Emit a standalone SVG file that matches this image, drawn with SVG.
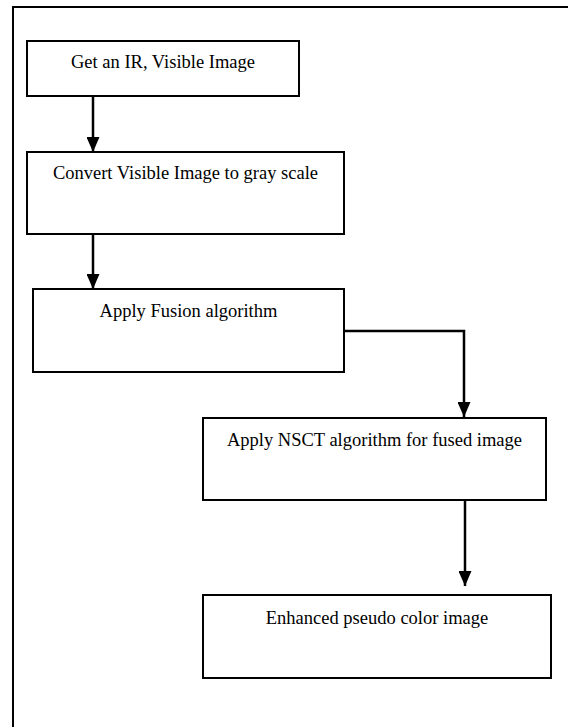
<svg xmlns="http://www.w3.org/2000/svg" width="568" height="727" viewBox="0 0 568 727">
  <style>
    .box { fill: #ffffff; stroke: #000000; stroke-width: 2; }
    .label { font-family: "Liberation Serif", "Times New Roman", serif; font-size: 18.5px; fill: #000000; text-anchor: middle; }
    .conn { fill: none; stroke: #000000; stroke-width: 2.5; }
    .frame { fill: none; stroke: #000000; stroke-width: 2; }
  </style>
  <defs>
    <marker id="arrow" viewBox="0 0 15 13" refX="15" refY="6.5" markerWidth="15" markerHeight="13" markerUnits="userSpaceOnUse" orient="auto">
      <path d="M0,0 L15,6.5 L0,13 z" fill="#000000"/>
    </marker>
  </defs>

  <rect width="568" height="727" fill="#ffffff"/>

  <!-- outer frame (open to the right and bottom) -->
  <path class="frame" d="M13,730 V7 H570"/>

  <g id="connectors">
    <line class="conn" x1="93" y1="96" x2="93" y2="152" marker-end="url(#arrow)"/>
    <line class="conn" x1="93" y1="234" x2="93" y2="289" marker-end="url(#arrow)"/>
    <path class="conn" d="M344,331 H464 V417" marker-end="url(#arrow)"/>
    <line class="conn" x1="465" y1="500" x2="465" y2="586" marker-end="url(#arrow)"/>
  </g>

  <g id="get-images">
    <rect class="box" x="27" y="41" width="272" height="55"/>
    <text class="label" x="163" y="68">Get an IR, Visible Image</text>
  </g>

  <g id="convert-gray">
    <rect class="box" x="27" y="152" width="317" height="82"/>
    <text class="label" x="185.5" y="179">Convert Visible Image to gray scale</text>
  </g>

  <g id="fusion">
    <rect class="box" x="33" y="289" width="311" height="83"/>
    <text class="label" x="188.5" y="317">Apply Fusion algorithm</text>
  </g>

  <g id="nsct">
    <rect class="box" x="203" y="418" width="343" height="82"/>
    <text class="label" x="374.5" y="446">Apply NSCT algorithm for fused image</text>
  </g>

  <g id="result">
    <rect class="box" x="203" y="595" width="348" height="83"/>
    <text class="label" x="377" y="624">Enhanced pseudo color image</text>
  </g>
</svg>
